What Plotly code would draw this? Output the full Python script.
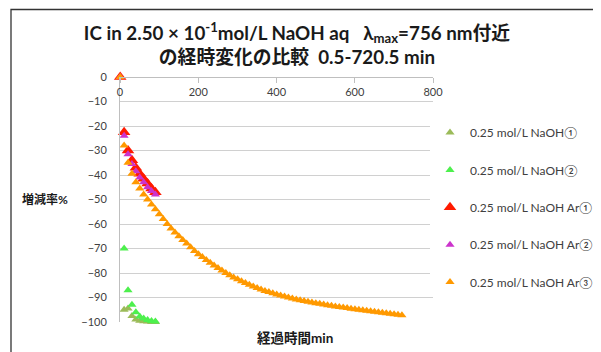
import plotly.graph_objects as go

# ---- data ----
t_short = [0.5, 10.5, 20.5, 30.5, 40.5, 50.5, 60.5, 70.5, 80.5, 90.5]
naoh1 = [0, -95, -94.5, -97.5, -99, -99.5, -99.7, -99.8, -100, -100]
naoh2 = [0, -70, -87, -93, -96, -97.8, -98.6, -99.2, -99.6, -99.8]
ar1 = [0, -22.5, -30, -34, -37, -39.5, -41.5, -43.5, -45.5, -47]
ar2 = [0, -24, -31.5, -35.5, -38.5, -41, -43, -45, -46.5, -48]

t_long = [0.5 + 10 * i for i in range(73)]
ar3 = [0, -28, -35, -39.5, -43, -45.5, -48, -50, -52, -54,
       -56, -58, -60, -61.8, -63.5, -65, -66.5, -68, -69.5, -71,
       -72.3, -73.5, -74.7, -75.8, -76.9, -78, -79, -80, -80.9, -81.8,
       -82.6, -83.4, -84.1, -84.8, -85.5, -86.1, -86.7, -87.3, -87.8, -88.3,
       -88.8, -89.2, -89.6, -90.0, -90.4, -90.8, -91.1, -91.4, -91.7, -92.0,
       -92.3, -92.6, -92.9, -93.2, -93.4, -93.7, -93.9, -94.1, -94.3, -94.6,
       -94.8, -95.0, -95.2, -95.4, -95.6, -95.8, -96.0, -96.2, -96.4, -96.6,
       -96.8, -97.0, -97.2]

names = ["0.25 mol/L NaOH①", "0.25 mol/L NaOH②", "0.25 mol/L NaOH Ar①",
         "0.25 mol/L NaOH Ar②", "0.25 mol/L NaOH Ar③"]
colors = ["#9BBB59", "#4DF04D", "#FF1A00", "#CC33CC", "#FF9900"]
sizes = [8, 8, 11, 8, 8]

FONT = "Lato, 'Noto Sans CJK JP', sans-serif"

fig = go.Figure()
series = [(t_short, naoh1), (t_short, naoh2), (t_short, ar1), (t_short, ar2), (t_long, ar3)]
for i, (xs, ys) in enumerate(series):
    fig.add_trace(go.Scatter(
        x=xs, y=ys, mode="markers", name=names[i], legendgroup=str(i),
        marker=dict(symbol="triangle-up", size=sizes[i], color=colors[i], line=dict(width=0)),
        cliponaxis=False,
    ))

OFF = 8  # page body margin
W, H = 601 - OFF, 352 - OFF
L, R, T, B = 120 - OFF, 433 - OFF, 77 - OFF, 322 - OFF
def px(x):  # screen px (reference) -> paper x
    return (x - OFF - L) / (R - L)
def py(y):
    return (B - (y - OFF)) / (B - T)

fig.update_layout(
    width=W, height=H,
    margin=dict(l=L, r=W - R, t=T, b=H - B, autoexpand=False),
    paper_bgcolor="white", plot_bgcolor="white",
    font=dict(family=FONT, size=11, color="#404040"),
    title=dict(
        text="IC in 2.50 × 10<sup>-1</sup>mol/L NaOH aq&nbsp;&nbsp;&nbsp;λ<sub>max</sub>=756 nm付近<br>の経時変化の比較&nbsp;&nbsp;0.5-720.5 min",
        x=(297 - OFF) / W, xanchor="center", y=1 - 31.5 / H, yanchor="middle",
        font=dict(family=FONT, size=18.8, color="#1a1a1a", weight="bold"),
    ),
    xaxis=dict(
        range=[0, 800], dtick=200, anchor="free", position=1, side="bottom",
        showgrid=False, zeroline=False, showline=True, linecolor="#bfbfbf",
        ticks="outside", ticklen=5, tickcolor="#bfbfbf",
        tickfont=dict(size=11, color="#404040"),
    ),
    yaxis=dict(
        range=[-100, 0], dtick=10, showgrid=True, gridcolor="#d0d0d0", gridwidth=1.3,
        zeroline=False, showline=True, linecolor="#bfbfbf",
        ticks="", ticklabelstandoff=10,
        tickfont=dict(size=11, color="#404040"),
    ),
    legend=dict(
        x=px(430), xanchor="left", y=py(118), yanchor="top",
        font=dict(size=12, color="#404040"), tracegroupgap=18.4,
        traceorder="grouped", itemwidth=30,
    ),
    showlegend=True,
    annotations=[
        dict(text="増減率%", xref="paper", yref="paper", x=px(20), y=py(199),
             xanchor="left", yanchor="middle", showarrow=False,
             font=dict(size=12, color="#1a1a1a", weight="bold")),
        dict(text="経過時間min", xref="paper", yref="paper", x=px(295), y=py(338),
             xanchor="center", yanchor="middle", showarrow=False,
             font=dict(size=13.5, color="#1a1a1a", weight="bold")),
    ],
    shapes=[
        dict(type="rect", xref="paper", yref="paper", x0=px(11), x1=px(596),
             y0=py(370), y1=py(9.5), line=dict(color="#333333", width=1.3),
             fillcolor="rgba(0,0,0,0)", layer="above"),
    ],
)

fig.write_html("out.html")
